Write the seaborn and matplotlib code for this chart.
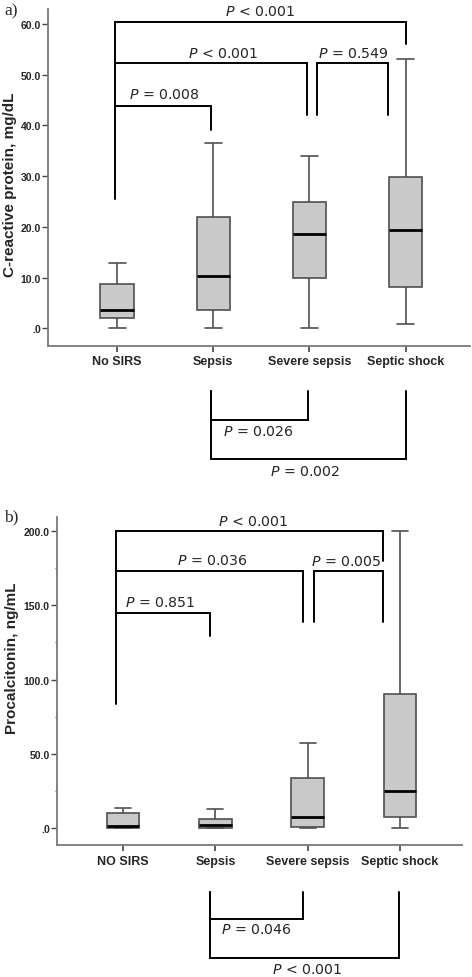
import matplotlib
matplotlib.use("Agg")
import matplotlib.pyplot as plt
from matplotlib import transforms
from matplotlib.ticker import FuncFormatter, FixedLocator
import numpy as np
import pandas as pd
import seaborn as sns

sns.set_style("ticks")
plt.rcParams['font.family'] = ['Liberation Sans', 'DejaVu Sans']
plt.rcParams['mathtext.fontset'] = 'dejavusans'

# five numbers per group: min, q1, median, q3, max
groupsA = ["No SIRS", "Sepsis", "Severe sepsis", "Septic shock"]
crpNoSirs = [0.0, 2.0, 3.7, 8.7, 12.9]
crpSepsis = [0.0, 3.6, 10.4, 21.9, 36.5]
crpSevere = [0.0, 10.0, 18.5, 24.9, 34.0]
crpShock = [0.8, 8.2, 19.3, 29.9, 53.1]

groupsB = ["NO SIRS", "Sepsis", "Severe sepsis", "Septic shock"]
pctNoSirs = [0.0, 0.2, 1.3, 10.3, 13.8]
pctSepsis = [0.0, 0.4, 2.2, 6.0, 12.8]
pctSevere = [0.0, 0.9, 7.8, 33.6, 57.1]
pctShock = [0.0, 7.6, 25.3, 90.3, 200.0]

pTopA = ["P < 0.001", "P < 0.001", "P = 0.549", "P = 0.008"]
pBotA = ["P = 0.026", "P = 0.002"]
pTopB = ["P < 0.001", "P = 0.036", "P = 0.005", "P = 0.851"]
pBotB = ["P = 0.046", "P < 0.001"]

def longForm(groups, series):
	rows = []
	for g, vals in zip(groups, series):
		for v in vals:
			rows.append((g, v))
	return pd.DataFrame(rows, columns=["group", "value"])

dfA = longForm(groupsA, [crpNoSirs, crpSepsis, crpSevere, crpShock])
dfB = longForm(groupsB, [pctNoSirs, pctSepsis, pctSevere, pctShock])

W, H = 472, 978
fig = plt.figure(figsize=(W / 100, H / 100), dpi=100)
axA = fig.add_axes([48 / W, 1 - 346.7 / H, 422 / W, 336.7 / H])
axB = fig.add_axes([56.7 / W, 1 - 846 / H, 405 / W, 327.7 / H])

spineCol = "#7a7a7a"
boxKw = dict(x="group", y="value", whis=(0, 100), width=0.35, color="#c9c9c9",
			 saturation=1, linecolor="#505050", linewidth=1.2, showfliers=False,
			 medianprops=dict(color="black", linewidth=2.0))

sns.boxplot(data=dfA, order=groupsA, ax=axA, **boxKw)
sns.boxplot(data=dfB, order=groupsB, ax=axB, **boxKw)

def ptext(s):
	return "$\\mathit{P}$" + s[1:]

def styleAxis(ax, ylim, major, minor=None):
	ax.set_xlim(-0.72, 3.67)
	ax.set_ylim(*ylim)
	ax.set_xlabel("")
	ax.set_ylabel("")
	sns.despine(ax=ax)
	for s in ["left", "bottom"]:
		ax.spines[s].set_color(spineCol)
		ax.spines[s].set_linewidth(1.3)
	ax.yaxis.set_major_locator(FixedLocator(major))
	if minor is not None:
		ax.yaxis.set_minor_locator(FixedLocator(minor))
		ax.tick_params(axis="y", which="minor", length=1.5, color=spineCol, width=1)
	ax.yaxis.set_major_formatter(FuncFormatter(lambda v, p: ".0" if v == 0 else "%.1f" % v))
	ax.tick_params(axis="y", which="major", length=4.5, color="#444444", width=1, pad=0.5,
				   labelsize=7.5)
	ax.tick_params(axis="x", length=4.5, color="#444444", width=1.2, pad=2.5, labelsize=9)
	for lab in ax.get_yticklabels() + ax.get_xticklabels():
		lab.set_fontweight("bold")

styleAxis(axA, (-3.4, 62.9), [0, 10, 20, 30, 40, 50, 60])
styleAxis(axB, (-11.2, 209), [0, 50, 100, 150, 200], [25, 75, 125, 175])

def bracket(ax, x1, y1, x2, y2, yh, trans=None):
	kw = dict(color="black", lw=1.4, clip_on=False, solid_joinstyle="miter")
	if trans is not None:
		kw["transform"] = trans
	ax.plot([x1, x1, x2, x2], [y1, yh, yh, y2], **kw)

def ptxt(ax, x, y, s, trans=None):
	kw = dict(ha="center", va="center", fontsize=10.2, family="DejaVu Sans")
	if trans is not None:
		kw["transform"] = trans
	ax.text(x, y, ptext(s), **kw)

# panel a brackets above the boxes
bracket(axA, -0.028, 25.4, 3.0, 56.0, 60.4)
bracket(axA, -0.028, 52.3, 1.97, 42.0, 52.3)
bracket(axA, 2.08, 42.0, 2.82, 42.0, 52.3)
bracket(axA, -0.028, 43.8, 0.976, 39.0, 43.8)
ptxt(axA, 1.485, 62.6, pTopA[0])
ptxt(axA, 1.10, 54.2, pTopA[1])
ptxt(axA, 2.46, 54.2, pTopA[2])
ptxt(axA, 0.488, 46.1, pTopA[3])

transA = transforms.blended_transform_factory(axA.transData, axA.transAxes)
bracket(axA, 0.976, -0.134, 1.98, -0.134, -0.220, transA)
bracket(axA, 0.976, -0.134, 3.0, -0.134, -0.3365, transA)
ptxt(axA, 1.464, -0.2524, pBotA[0], transA)
ptxt(axA, 1.96, -0.371, pBotA[1], transA)

# panel b brackets
bracket(axB, -0.08, 83.5, 2.82, 179.8, 199.8)
bracket(axB, -0.08, 173.1, 1.95, 138.8, 173.1)
bracket(axB, 2.07, 138.8, 2.82, 138.8, 173.1)
bracket(axB, -0.08, 144.7, 0.94, 129.0, 144.7)
ptxt(axB, 1.41, 206.7, pTopB[0])
ptxt(axB, 0.965, 180.3, pTopB[1])
ptxt(axB, 2.42, 179.8, pTopB[2])
ptxt(axB, 0.40, 151.9, pTopB[3])

transB = transforms.blended_transform_factory(axB.transData, axB.transAxes)
bracket(axB, 0.94, -0.1425, 1.95, -0.1425, -0.2258, transB)
bracket(axB, 0.94, -0.1425, 2.99, -0.1425, -0.3457, transB)
ptxt(axB, 1.44, -0.2563, pBotB[0], transB)
ptxt(axB, 1.99, -0.3784, pBotB[1], transB)

# panel letters and axis titles
fig.text(4 / W, 1 - 11 / H, "a)", family="Liberation Serif", fontsize=12.5, va="center")
fig.text(4 / W, 1 - 517 / H, "b)", family="Liberation Serif", fontsize=12.5, va="center")
fig.text(10 / W, 1 - 185 / H, "C-reactive protein, mg/dL", rotation=90, fontsize=11,
		 fontweight="bold", ha="center", va="center")
fig.text(12 / W, 1 - 658 / H, "Procalcitonin, ng/mL", rotation=90, fontsize=11,
		 fontweight="bold", ha="center", va="center")

fig.savefig("out.png", dpi=100)
